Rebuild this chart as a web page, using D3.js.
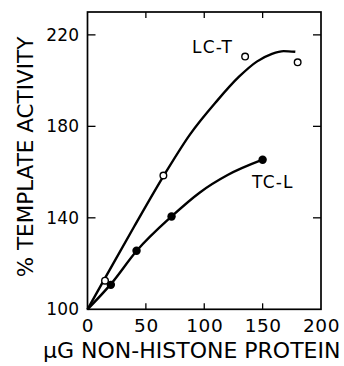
<!DOCTYPE html>
<html><head><meta charset="utf-8">
<script src="https://cdn.jsdelivr.net/npm/d3@7"></script>
<style>body{margin:0;background:#fff}svg{display:block}</style>
</head><body>
<svg id="c" width="344" height="366"></svg>
<script>
const xTicks = [0, 50, 100, 150, 200];
const yTicks = [100, 140, 180, 220];
// measured points
const lctPoints = [[15, 112.5], [65, 158.5], [135, 210.5], [180, 208]];
const tclPoints = [[20, 110.7], [42, 125.6], [72, 140.6], [150, 165.4]];
// smooth fitted curves (as drawn in original)
const lctCurve = [[0, 100], [15, 113.6], [40, 136.2], [66, 159], [88, 176.6], [110, 190.6], [130, 201.8], [145, 208.3], [158, 211.7], [168, 212.9], [178, 212.6]];
const tclCurve = [[0, 100], [20, 111], [42, 125.5], [72, 140.6], [96, 151], [120, 158.7], [150, 165.4]];
const seriesLabels = [{name: "LC-T", at: [89.5, 212]}, {name: "TC-L", at: [141, 153]}];

const svg = d3.select("#c");
const font = "'DejaVu Sans', sans-serif";
const x = d3.scaleLinear().domain([0, 200]).range([87.5, 321]);
const y = d3.scaleLinear().domain([100, 230]).range([309.3, 12]);

// frame
svg.append("rect").attr("x", x(0)).attr("y", y(230)).attr("width", x(200) - x(0)).attr("height", y(100) - y(230))
  .attr("fill", "none").attr("stroke", "#000").attr("stroke-width", 1.7);

// bottom axis
const gb = svg.append("g").attr("transform", `translate(0,${y(100)})`)
  .call(d3.axisBottom(x).tickValues(xTicks).tickSize(0).tickPadding(7).tickFormat(d3.format("d")));
gb.select(".domain").remove();
gb.selectAll("text").attr("font-family", font).attr("font-size", 18.5).attr("fill", "#000").attr("dy", "0.85em").attr("letter-spacing", 0.5);
// inward ticks bottom & top
svg.append("g").selectAll("line").data(xTicks.slice(1, -1)).join("line")
  .attr("x1", d => x(d)).attr("x2", d => x(d)).attr("y1", y(100)).attr("y2", y(100) - 6)
  .attr("stroke", "#000").attr("stroke-width", 1.3);
svg.append("g").selectAll("line").data(xTicks.slice(1, -1)).join("line")
  .attr("x1", d => x(d)).attr("x2", d => x(d)).attr("y1", y(230)).attr("y2", y(230) + 6)
  .attr("stroke", "#000").attr("stroke-width", 1.3);

// left axis
const gl = svg.append("g").attr("transform", `translate(${x(0)},0)`)
  .call(d3.axisLeft(y).tickValues(yTicks).tickSize(0).tickPadding(8).tickFormat(d3.format("d")));
gl.select(".domain").remove();
gl.selectAll("text").attr("font-family", font).attr("font-size", 17).attr("fill", "#000").attr("letter-spacing", 0.3);
svg.append("g").selectAll("line").data(yTicks.slice(1)).join("line")
  .attr("x1", x(0)).attr("x2", x(0) + 8).attr("y1", d => y(d)).attr("y2", d => y(d))
  .attr("stroke", "#000").attr("stroke-width", 1.3);
svg.append("g").selectAll("line").data(yTicks.slice(1)).join("line")
  .attr("x1", x(200)).attr("x2", x(200) - 8).attr("y1", d => y(d)).attr("y2", d => y(d))
  .attr("stroke", "#000").attr("stroke-width", 1.3);

// axis titles
svg.append("text").attr("x", 43).attr("y", 358).attr("font-family", font).attr("font-size", 22)
  .attr("fill", "#000").text("μG NON-HISTONE PROTEIN");
svg.append("text").attr("transform", "translate(33,157) rotate(-90)").attr("text-anchor", "middle")
  .attr("font-family", font).attr("font-size", 21.5).attr("fill", "#000").text("% TEMPLATE ACTIVITY");

// curves
const line = d3.line().x(d => x(d[0])).y(d => y(d[1])).curve(d3.curveMonotoneX);
svg.append("path").attr("d", line(lctCurve)).attr("fill", "none").attr("stroke", "#000").attr("stroke-width", 2.4);
svg.append("path").attr("d", line(tclCurve)).attr("fill", "none").attr("stroke", "#000").attr("stroke-width", 2.4);

// points
svg.append("g").selectAll("circle").data(tclPoints).join("circle")
  .attr("cx", d => x(d[0])).attr("cy", d => y(d[1])).attr("r", 4.2).attr("fill", "#000");
svg.append("g").selectAll("circle").data(lctPoints).join("circle")
  .attr("cx", d => x(d[0])).attr("cy", d => y(d[1])).attr("r", 3.3).attr("fill", "#fff")
  .attr("stroke", "#000").attr("stroke-width", 1.4);

// series labels
svg.append("g").selectAll("text").data(seriesLabels).join("text")
  .attr("x", d => x(d.at[0])).attr("y", d => y(d.at[1]))
  .attr("font-family", font).attr("font-size", 17).attr("letter-spacing", 1.2).attr("fill", "#000")
  .text(d => d.name);
</script>
</body></html>
